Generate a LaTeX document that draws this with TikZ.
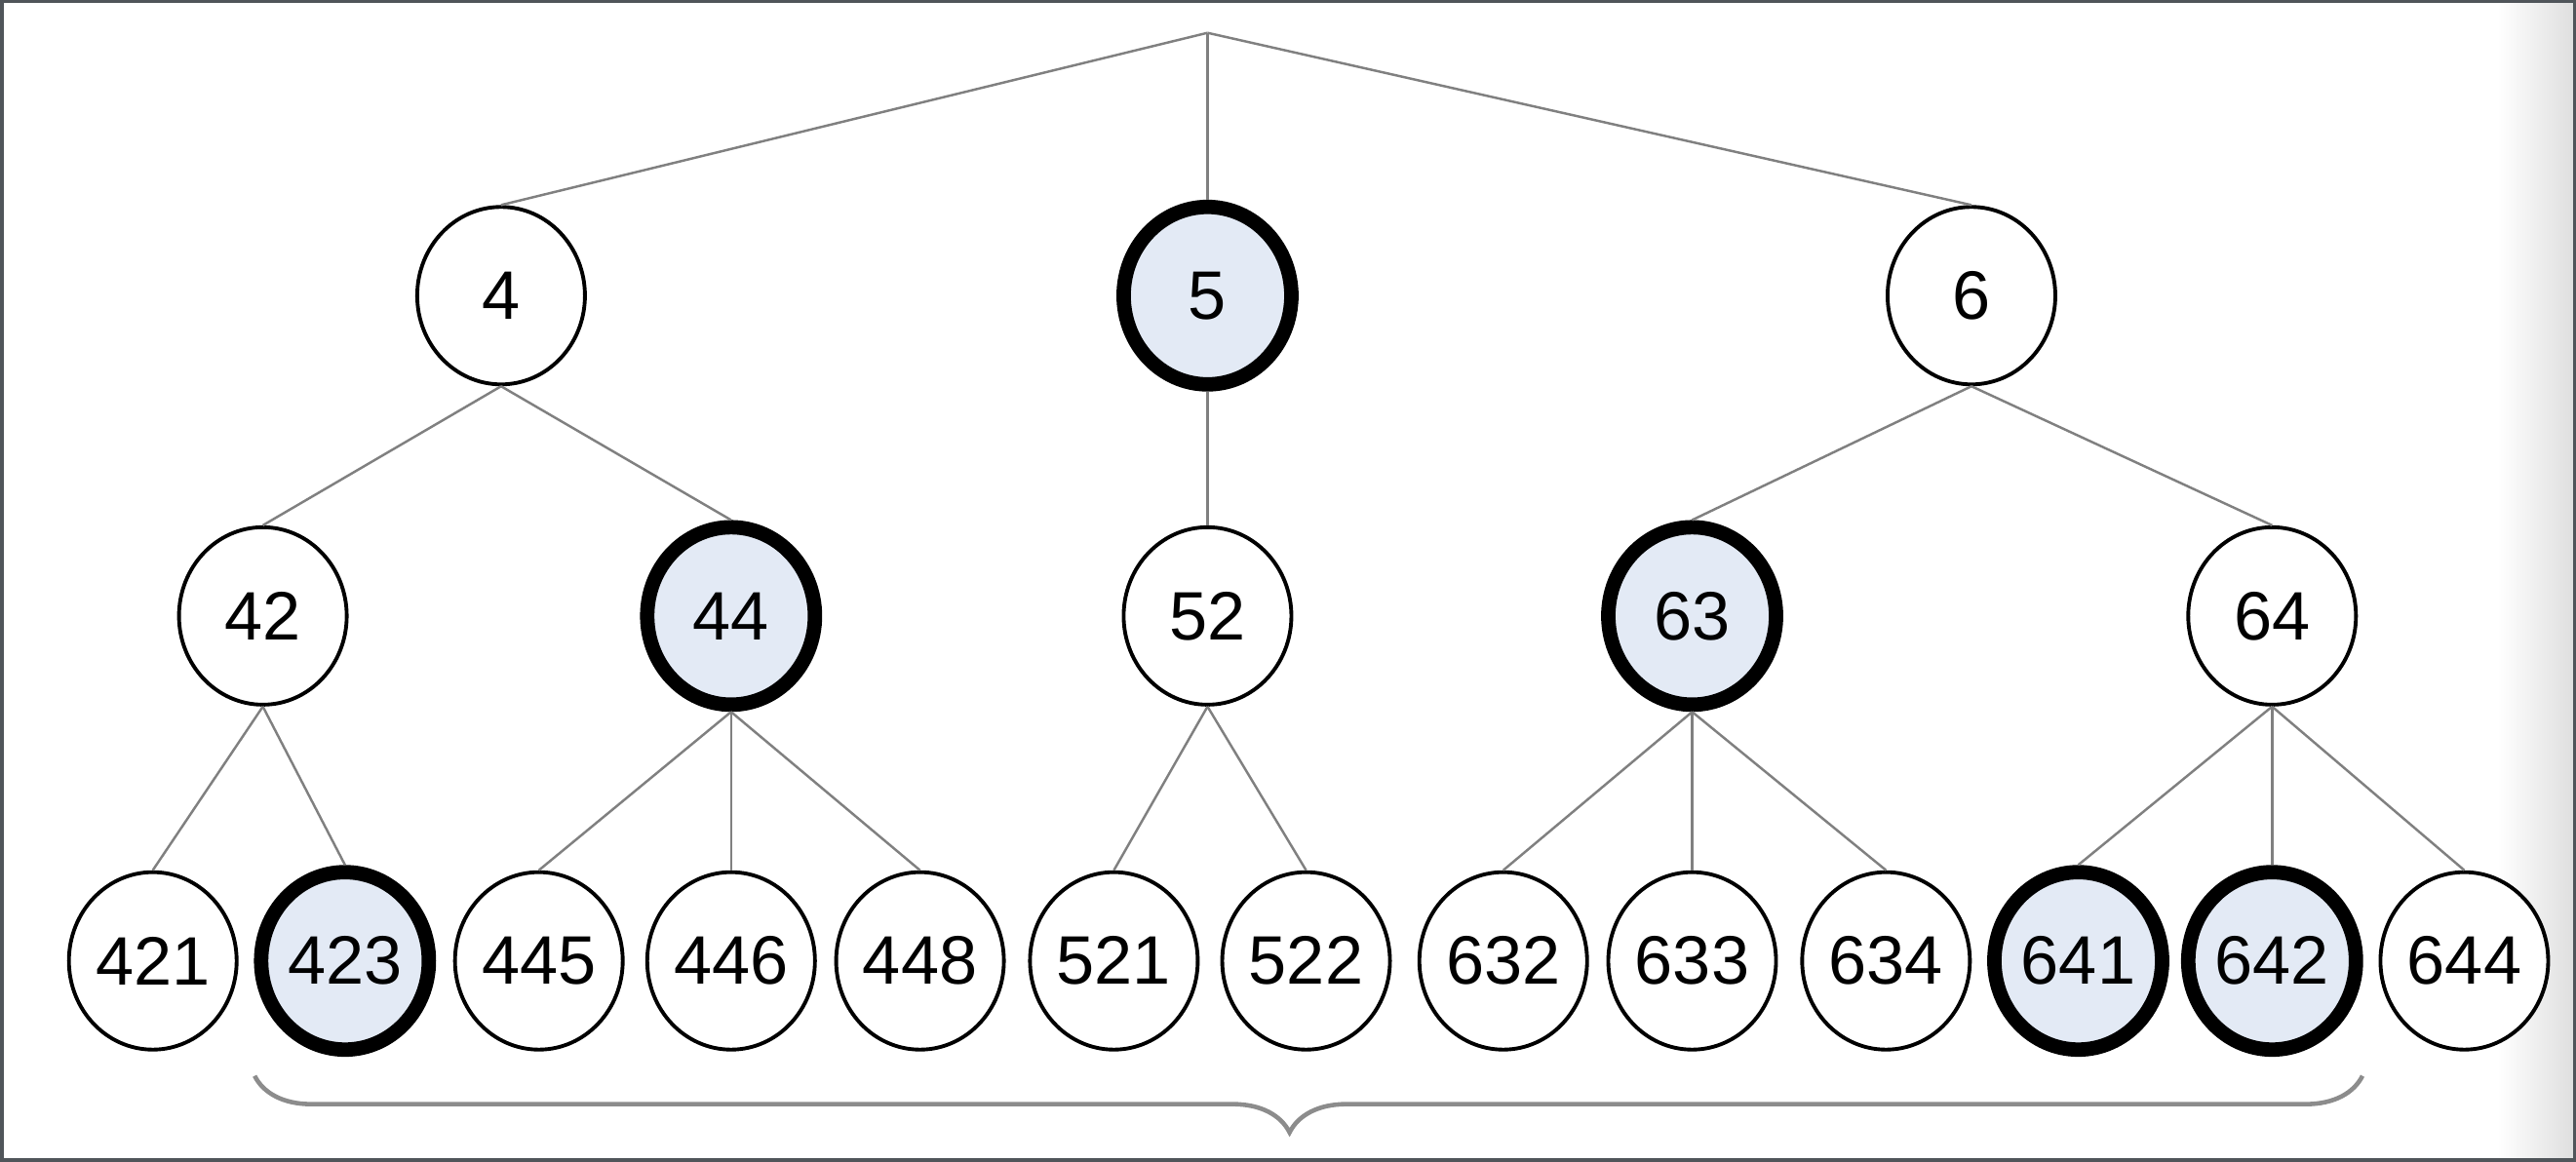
\documentclass[tikz,border=0pt]{standalone}
\usepackage{fontspec}
\setmainfont{Liberation Sans}
\usetikzlibrary{shapes.geometric,decorations.pathreplacing}
\definecolor{nodefill}{RGB}{227,234,245}
\definecolor{framegray}{RGB}{80,85,90}
\tikzset{
  leaf/.style={ellipse,draw=black,line width=1.1pt,fill=white,minimum width=1.72cm,minimum height=1.82cm,inner sep=0pt,font=\fontsize{20}{24}\selectfont},
  picked/.style={leaf,line width=4.2pt,fill=nodefill},
  link/.style={draw=black!50,line width=0.7pt}
}
\begin{document}
\begin{tikzpicture}[x=0.01685cm,y=-0.01685cm]
\useasboundingbox (0,0) rectangle (1568,707);
\shade[left color=white,right color=black!13] (1520,0) rectangle (1568,707);
\draw[framegray,line width=2pt] (0,0) rectangle (1568,707);
\coordinate (top) at (735,20);
% level one
\node[leaf] (n4) at (305,180) {4};
\node[picked] (n5) at (735,180) {5};
\node[leaf] (n6) at (1200,180) {6};
% level two
\node[leaf] (n42) at (160,375) {42};
\node[picked] (n44) at (445,375) {44};
\node[leaf] (n52) at (735,375) {52};
\node[picked] (n63) at (1030,375) {63};
\node[leaf] (n64) at (1383,375) {64};
% level three
\foreach \name/\x/\st in {421/93/leaf,423/210/picked,445/328/leaf,446/445/leaf,448/560/leaf,521/678/leaf,522/795/leaf,632/915/leaf,633/1030/leaf,634/1148/leaf,641/1265/picked,642/1383/picked,644/1500/leaf}
  \node[\st] (n\name) at (\x,585) {\name};
\foreach \p/\c in {4/42,4/44,5/52,6/63,6/64,42/421,42/423,44/445,44/446,44/448,52/521,52/522,63/632,63/633,63/634,64/641,64/642,64/644}
  \draw[link] (n\p.south) -- (n\c.north);
\foreach \c in {4,5,6}
  \draw[link] (top) -- (n\c.north);
\coordinate (bl) at (155,655);
\coordinate (br) at (1438,655);
\draw[black!45,line width=1.3pt,decorate,decoration={brace,amplitude=0.58cm,aspect=0.509}] (br) -- (bl);
\end{tikzpicture}
\end{document}
